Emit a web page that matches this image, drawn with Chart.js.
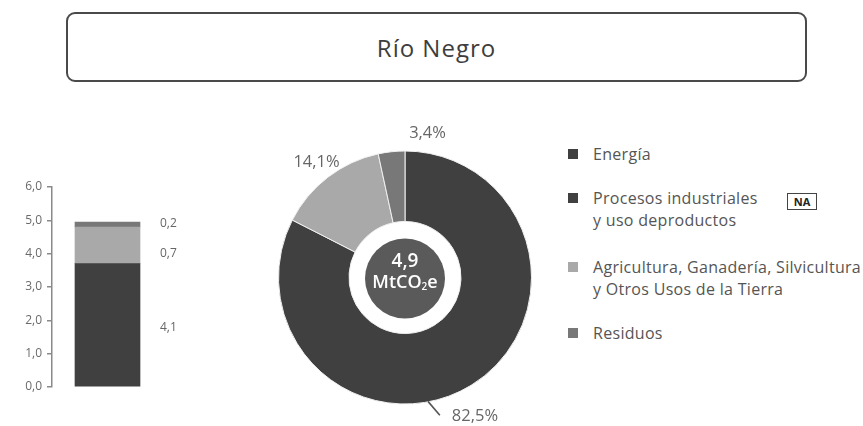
<!DOCTYPE html>
<html lang="es">
<head>
<meta charset="utf-8">
<script src="https://cdn.jsdelivr.net/npm/chart.js@4/dist/chart.umd.min.js"></script>
<style>
  html,body{margin:0;padding:0;background:#fff;}
  body{width:863px;height:426px;position:relative;overflow:hidden;font-family:"Open Sans",sans-serif;color:#555;}
  #title{position:absolute;left:66px;top:12px;width:737px;height:66px;border:2px solid #4a4a4a;border-radius:9px;
         display:flex;align-items:center;justify-content:center;font-size:24px;letter-spacing:1px;color:#3d3d3d;}
  #barWrap{position:absolute;left:0;top:170px;width:200px;height:230px;}
  #donutWrap{position:absolute;left:270px;top:120px;width:270px;height:306px;}
  .leg{position:absolute;left:568px;font-size:16px;letter-spacing:0.3px;line-height:22px;color:#555;}
  .leg .sw{position:absolute;left:0;top:6px;width:10px;height:10px;}
  .leg .tx{position:absolute;left:25px;top:0;white-space:nowrap;}
  #na{position:absolute;left:787px;top:193px;width:28px;height:15px;border:1.5px solid #444;font:bold 11px "Open Sans",sans-serif;
      color:#222;display:flex;align-items:center;justify-content:center;}
</style>
</head>
<body>
<div id="title"></div>
<div id="barWrap"><canvas id="bar" width="200" height="230"></canvas></div>
<div id="donutWrap"><canvas id="donut" width="270" height="306"></canvas></div>
<div id="legend"></div>
<div id="na">NA</div>
<script>
// ---- data ----
const chartTitle = 'Río Negro';
const sectors = ['Energía', 'Procesos industriales\ny uso deproductos', 'Agricultura, Ganadería, Silvicultura\ny Otros Usos de la Tierra', 'Residuos'];
const sectorColors = ['#404040', '#404040', '#a9a9a9', '#787878'];
const stackSeries = ['Energía', 'Agricultura, Ganadería, Silvicultura y Otros Usos de la Tierra', 'Residuos'];
const stackValues = [3.7, 1.1, 0.15];
const stackLabels = ['4,1', '0,7', '0,2'];
const shareValues = [82.5, 0, 14.1, 3.4];
const shareLabels = ['82,5%', '', '14,1%', '3,4%'];
const totalValue = '4,9';
const totalUnit = ['MtCO', '2', 'e'];
const naSectors = [false, true, false, false];

const FONT = '"Open Sans", sans-serif';
document.getElementById('title').textContent = chartTitle;

// legend
const legendTops = [143, 187, 256, 322];
const legend = document.getElementById('legend');
sectors.forEach((s, i) => {
  const d = document.createElement('div');
  d.className = 'leg';
  d.style.top = legendTops[i] + 'px';
  const sw = document.createElement('div');
  sw.className = 'sw'; sw.style.background = sectorColors[i];
  const tx = document.createElement('div');
  tx.className = 'tx'; tx.innerHTML = s.split('\n').join('<br>');
  d.appendChild(sw); d.appendChild(tx);
  legend.appendChild(d);
});
document.getElementById('na').style.display = naSectors.some(v => v) ? 'flex' : 'none';

// ---- stacked bar ----
const stackColors = ['#404040', '#a9a9a9', '#787878'];
const barLabelPlugin = {
  id: 'barLabels',
  afterDatasetsDraw(chart) {
    const ctx = chart.ctx;
    ctx.save();
    ctx.font = '12px ' + FONT;
    ctx.fillStyle = '#666';
    ctx.textAlign = 'left';
    ctx.textBaseline = 'middle';
    const yOff = [3, 8, -1];
    chart.data.datasets.forEach((ds, i) => {
      const el = chart.getDatasetMeta(i).data[0];
      const x = el.x + el.width / 2 + 20;
      const y = (el.y + el.base) / 2 + yOff[i];
      ctx.fillText(stackLabels[i], x, y);
    });
    ctx.restore();
  }
};
new Chart(document.getElementById('bar'), {
  type: 'bar',
  data: {
    labels: [''],
    datasets: stackSeries.map((n, i) => ({
      label: n, data: [stackValues[i]], backgroundColor: stackColors[i],
      borderWidth: 0, barThickness: 65
    }))
  },
  options: {
    responsive: false, animation: false,
    layout: { padding: { top: 17, bottom: 13, left: 0, right: 37 } },
    plugins: { legend: { display: false }, tooltip: { enabled: false } },
    scales: {
      x: { stacked: true, display: false },
      y: {
        stacked: true, min: 0, max: 6,
        afterFit(s) { s.width = 52; },
        ticks: { stepSize: 1, color: '#6a6a6a', font: { size: 12, family: FONT }, padding: 5,
                 callback: v => v.toFixed(1).replace('.', ',') },
        grid: { drawOnChartArea: false, tickLength: 5, color: '#8a8a8a', lineWidth: 1.5 },
        border: { color: '#8a8a8a', width: 1.5 }
      }
    }
  },
  plugins: [barLabelPlugin]
});

// ---- doughnut ----
const centerPlugin = {
  id: 'center',
  afterDatasetsDraw(chart) {
    const arc = chart.getDatasetMeta(0).data[0];
    const cx = arc.x, cy = arc.y;
    const ctx = chart.ctx;
    ctx.save();
    ctx.beginPath();
    ctx.arc(cx, cy + 1, 40, 0, Math.PI * 2);
    ctx.fillStyle = '#5a5a5a';
    ctx.fill();
    ctx.fillStyle = '#fff';
    ctx.textBaseline = 'middle';
    ctx.textAlign = 'center';
    ctx.font = '600 19px ' + FONT;
    ctx.fillText(totalValue, cx, cy - 16);
    // unit with subscript
    const big = '600 18px ' + FONT, small = '600 10px ' + FONT;
    ctx.font = big; const w1 = ctx.measureText(totalUnit[0]).width, w3 = ctx.measureText(totalUnit[2]).width;
    ctx.font = small; const w2 = ctx.measureText(totalUnit[1]).width;
    let x = cx - (w1 + w2 + w3) / 2;
    const y = cy + 5;
    ctx.textAlign = 'left';
    ctx.font = big; ctx.fillText(totalUnit[0], x, y); x += w1;
    ctx.font = small; ctx.fillText(totalUnit[1], x, y + 5); x += w2;
    ctx.font = big; ctx.fillText(totalUnit[2], x, y);
    ctx.restore();
  }
};
// label placement (angles in degrees clockwise from 12 o'clock, radii in px from centre)
const labelPlacement = [
  { angle: 153.3, r: 155.6, leader: [{ a: 169.5, r: 126 }, { a: 165.8, r: 142 }] },
  null,
  { r: 145 },
  { angle: 8.9, r: 145.7 }
];
const toRad = d => (d - 90) * Math.PI / 180;
const shareLabelPlugin = {
  id: 'shareLabels',
  afterDraw(chart) {
    const meta = chart.getDatasetMeta(0);
    const ctx = chart.ctx;
    ctx.save();
    ctx.font = '16.5px ' + FONT;
    ctx.fillStyle = '#666';
    ctx.strokeStyle = '#555';
    ctx.lineWidth = 1.6;
    ctx.textAlign = 'center';
    ctx.textBaseline = 'middle';
    meta.data.forEach((el, i) => {
      const p = labelPlacement[i];
      if (!p || !shareLabels[i]) return;
      const mid = (el.startAngle + el.endAngle) / 2;
      const a = p.angle !== undefined ? toRad(p.angle) : mid;
      ctx.fillText(shareLabels[i], el.x + Math.cos(a) * p.r, el.y + Math.sin(a) * p.r);
      if (p.leader) {
        const [s, e] = p.leader;
        ctx.beginPath();
        ctx.moveTo(el.x + Math.cos(toRad(s.a)) * s.r, el.y + Math.sin(toRad(s.a)) * s.r);
        ctx.lineTo(el.x + Math.cos(toRad(e.a)) * e.r, el.y + Math.sin(toRad(e.a)) * e.r);
        ctx.stroke();
      }
    });
    ctx.restore();
  }
};
new Chart(document.getElementById('donut'), {
  type: 'doughnut',
  data: {
    labels: sectors,
    datasets: [{ data: shareValues, backgroundColor: sectorColors, borderColor: '#f0f0f0', borderWidth: 1 }]
  },
  options: {
    responsive: false, animation: false,
    cutout: 56,
    layout: { padding: { left: 8, right: 8, top: 21, bottom: 12 } },
    plugins: { legend: { display: false }, tooltip: { enabled: false } }
  },
  plugins: [centerPlugin, shareLabelPlugin]
});
</script>
</body>
</html>
